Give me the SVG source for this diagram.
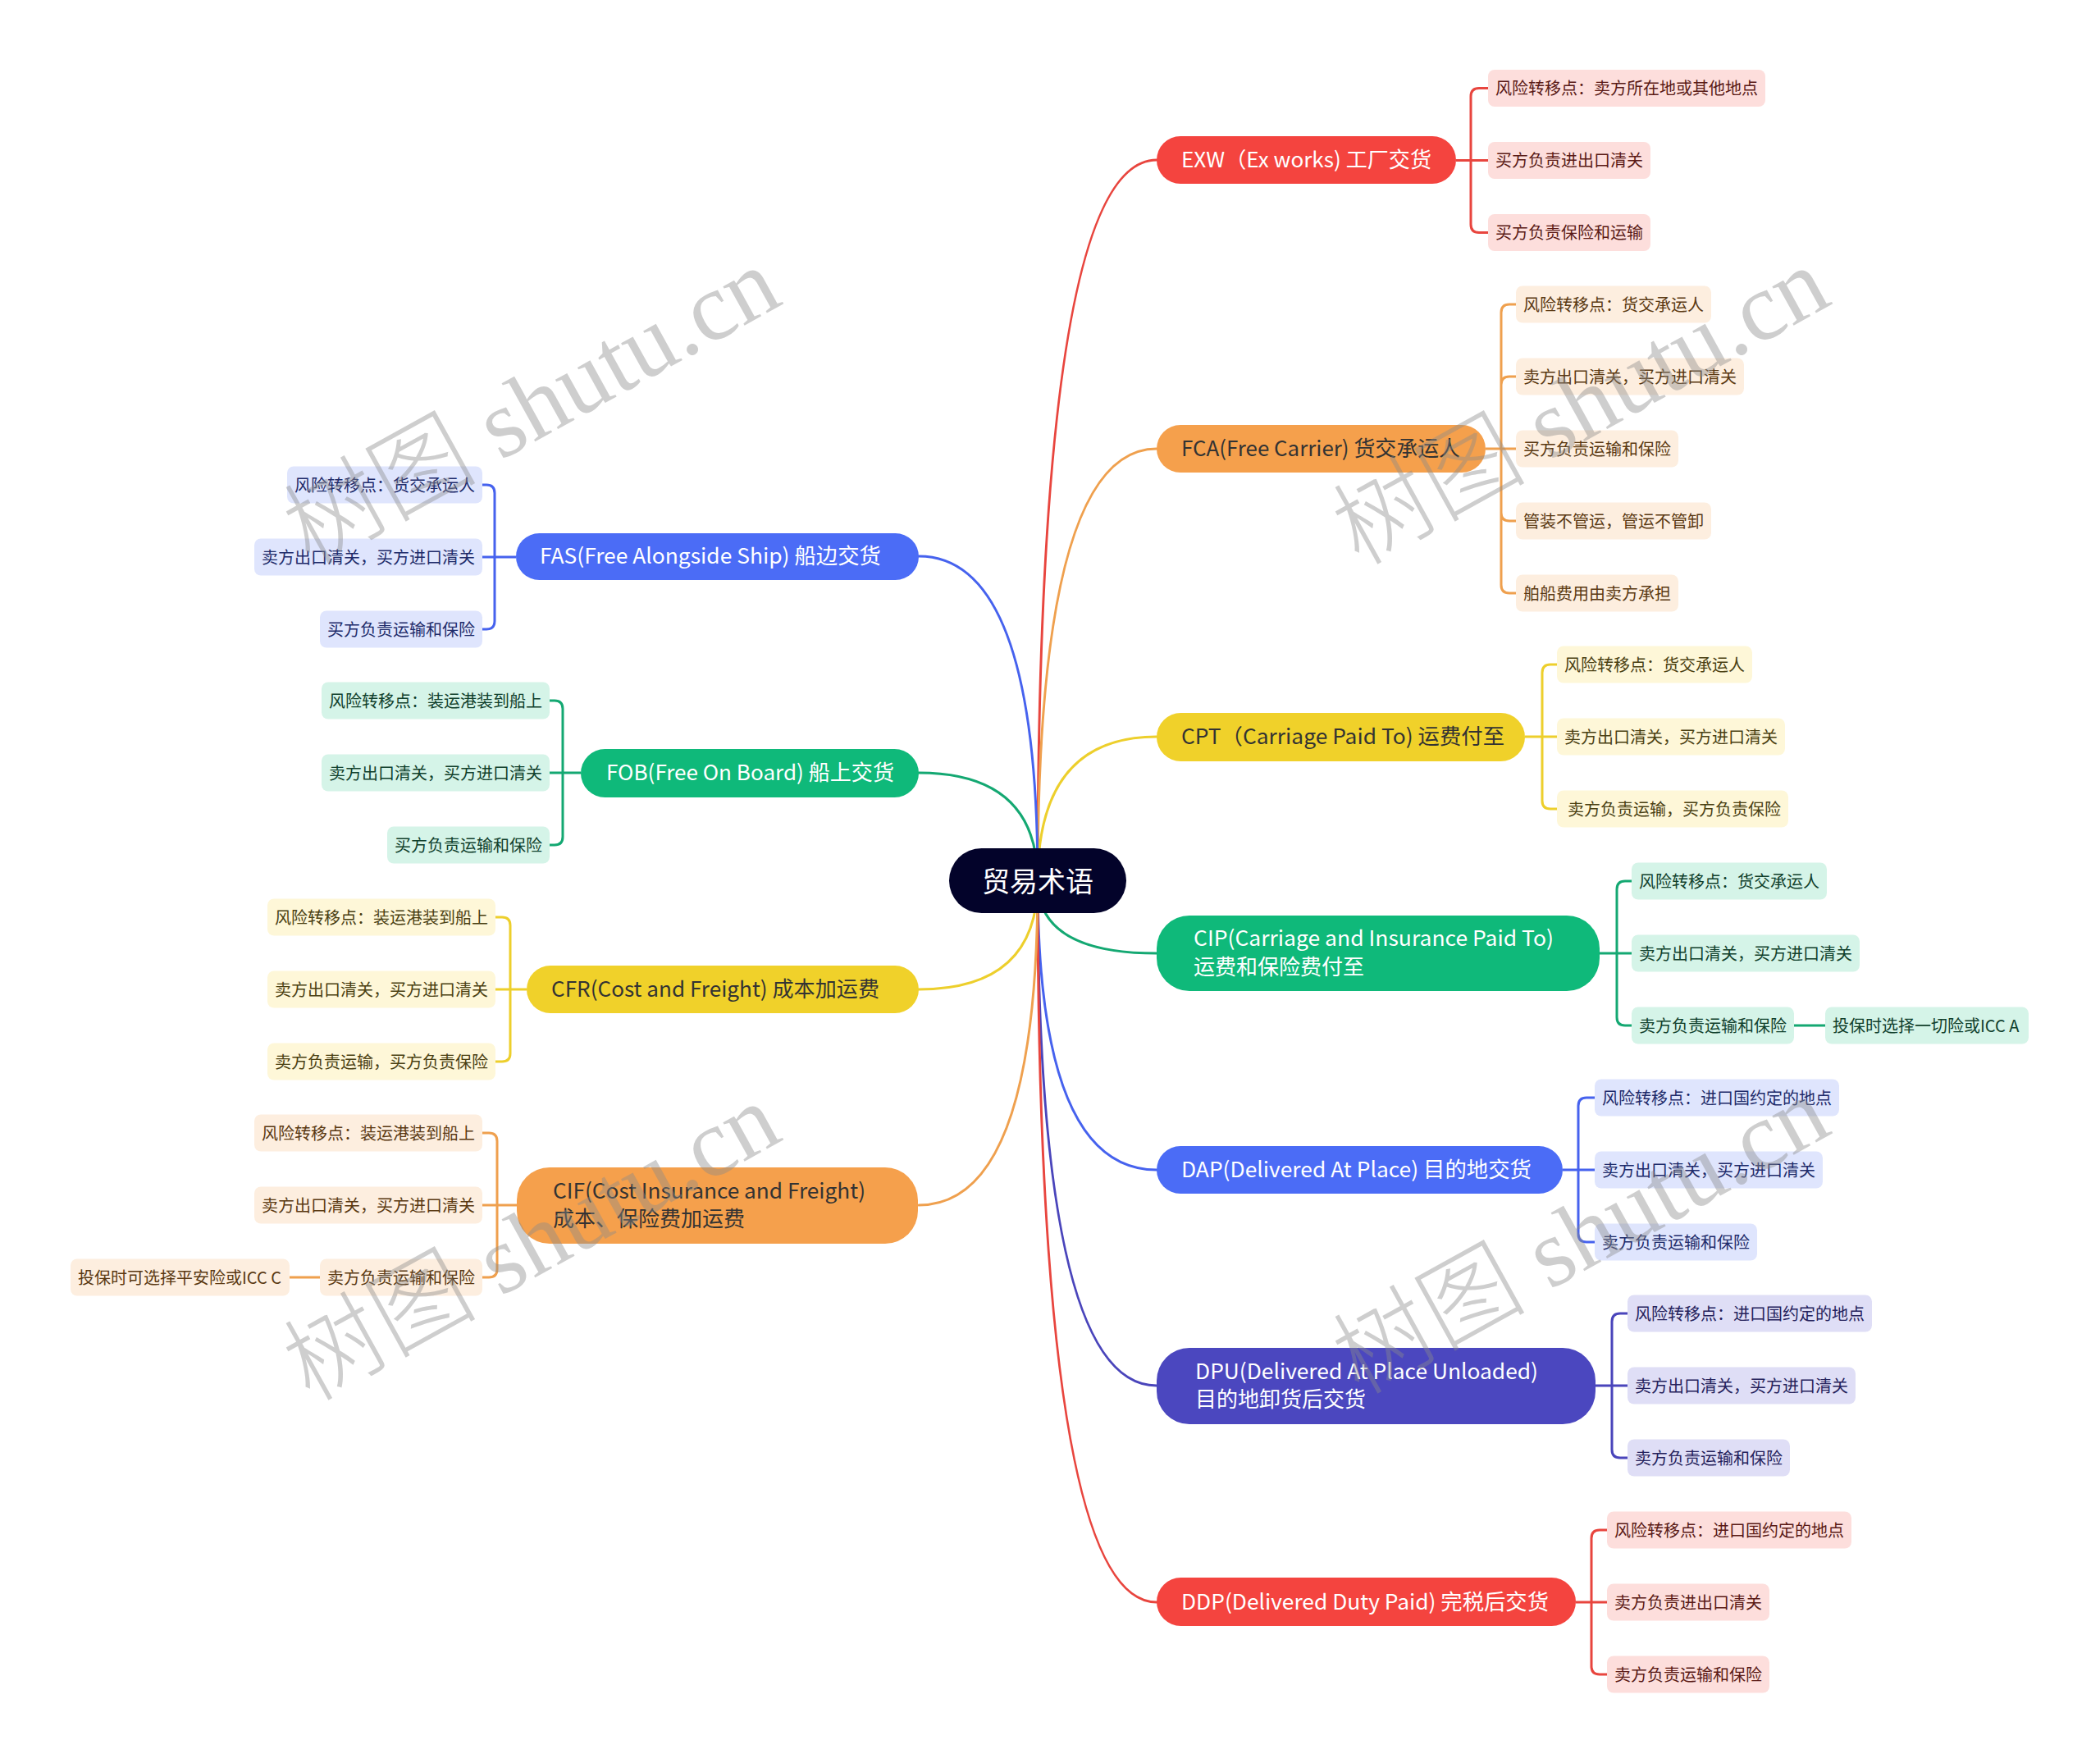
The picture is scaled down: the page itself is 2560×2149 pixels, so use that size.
<svg xmlns="http://www.w3.org/2000/svg" width="2560" height="2149" viewBox="0 0 2560 2149">
<style>
text{font-family:"Noto Sans CJK SC","Noto Sans",sans-serif}
.mt{font-size:26px}
.st{font-size:20px}
.ct{font-size:34px;fill:#fff}
.w{fill:#fff}
.d{fill:#333}
.cn{fill:none;stroke-width:3;stroke-linecap:round}
.br{fill:none;stroke-width:3}
.cred{stroke:#E8453E}.cora{stroke:#EFA04E}.cyel{stroke:#EDCF2C}.cgrn{stroke:#14A872}.cblu{stroke:#4662EE}.cind{stroke:#4A45BB}
.nred{fill:#F4443F}.nora{fill:#F5A04C}.nyel{fill:#F0D12A}.ngrn{fill:#0FB97A}.nblu{fill:#4B6CF6}.nind{fill:#4B47BF}
.sred rect{fill:#FDDEDC}.sred text{fill:#5A1A16}
.sora rect{fill:#FDEEDF}.sora text{fill:#5A3912}
.syel rect{fill:#FEF7D8}.syel text{fill:#4A4012}
.sgrn rect{fill:#D5F4E8}.sgrn text{fill:#10402C}
.sblu rect{fill:#DFE5FD}.sblu text{fill:#1E2B6A}
.sind rect{fill:#DFDEF6}.sind text{fill:#25225C}
.wm{font-family:"Liberation Serif","Noto Sans CJK SC",serif;font-size:118px;font-weight:300;fill:#8a8a8a;fill-opacity:0.42}
</style>
<rect width="2560" height="2149" fill="#fff"/>
<g id="connectors">
<path class="cn cred" d="M1265,1074 Q1265,195 1410,195"/>
<path class="cn cora" d="M1265,1074 Q1265,547 1410,547"/>
<path class="cn cyel" d="M1265,1074 Q1265,898 1410,898"/>
<path class="cn cgrn" d="M1265,1074 Q1265,1162 1410,1162"/>
<path class="cn cblu" d="M1265,1074 Q1265,1426 1410,1426"/>
<path class="cn cind" d="M1265,1074 Q1265,1689 1410,1689"/>
<path class="cn cred" d="M1265,1074 Q1265,1953 1410,1953"/>
<path class="cn cblu" d="M1265,1074 Q1265,678 1120,678"/>
<path class="cn cgrn" d="M1265,1074 Q1265,942 1120,942"/>
<path class="cn cyel" d="M1265,1074 Q1265,1206 1120,1206"/>
<path class="cn cora" d="M1265,1074 Q1265,1469 1120,1469"/>
<path class="br cred" d="M1775,195.5 H1814 M1793,117.5 V273.5 M1793,117.5 Q1793,107.5 1803,107.5 H1814 M1793,273.5 Q1793,283.5 1803,283.5 H1814"/>
<path class="br cora" d="M1811,547 H1848 M1830,381 V713 M1830,381 Q1830,371 1840,371 H1848 M1830,469 Q1830,459 1840,459 H1848 M1830,625 Q1830,635 1840,635 H1848 M1830,713 Q1830,723 1840,723 H1848"/>
<path class="br cyel" d="M1859,898 H1898 M1880,820 V976 M1880,820 Q1880,810 1890,810 H1898 M1880,976 Q1880,986 1890,986 H1898"/>
<path class="br cgrn" d="M1950,1162 H1989 M1971,1084 V1240 M1971,1084 Q1971,1074 1981,1074 H1989 M1971,1240 Q1971,1250 1981,1250 H1989 M2187,1250 H2225"/>
<path class="br cblu" d="M1905,1426 H1944 M1924,1348 V1504 M1924,1348 Q1924,1338 1934,1338 H1944 M1924,1504 Q1924,1514 1934,1514 H1944"/>
<path class="br cind" d="M1945,1689 H1984 M1965,1611 V1767 M1965,1611 Q1965,1601 1975,1601 H1984 M1965,1767 Q1965,1777 1975,1777 H1984"/>
<path class="br cred" d="M1921,1953 H1959 M1940,1875 V2031 M1940,1875 Q1940,1865 1950,1865 H1959 M1940,2031 Q1940,2041 1950,2041 H1959"/>
<path class="br cblu" d="M629,679 H588 M603,601 V757 M603,601 Q603,591 593,591 H588 M603,757 Q603,767 593,767 H588"/>
<path class="br cgrn" d="M708,942 H670 M686,864 V1020 M686,864 Q686,854 676,854 H670 M686,1020 Q686,1030 676,1030 H670"/>
<path class="br cyel" d="M642,1206 H604 M622,1128 V1284 M622,1128 Q622,1118 612,1118 H604 M622,1284 Q622,1294 612,1294 H604"/>
<path class="br cora" d="M630,1469 H588 M606,1391 V1547 M606,1391 Q606,1381 596,1381 H588 M606,1547 Q606,1557 596,1557 H588 M390,1557 H353"/>
</g>
<g id="root">
<rect x="1157" y="1034" width="216" height="79" rx="39.5" fill="#03032A"/>
<text class="ct" x="1265" y="1087" text-anchor="middle">贸易术语</text>
</g>
<g id="exw">
<rect class="nred" x="1410" y="166" width="365" height="58" rx="29"/>
<text class="mt w" x="1440" y="204" textLength="305" lengthAdjust="spacingAndGlyphs">EXW（Ex works) 工厂交货</text>
</g>
<g id="fca">
<rect class="nora" x="1410" y="518" width="401" height="58" rx="29"/>
<text class="mt d" x="1440" y="556" textLength="340" lengthAdjust="spacingAndGlyphs">FCA(Free Carrier) 货交承运人</text>
</g>
<g id="cpt">
<rect class="nyel" x="1410" y="869" width="449" height="59" rx="29.5"/>
<text class="mt d" x="1440" y="907" textLength="394" lengthAdjust="spacingAndGlyphs">CPT（Carriage Paid To) 运费付至</text>
</g>
<g id="cip">
<rect class="ngrn" x="1410" y="1116" width="540" height="92" rx="40"/>
<text class="mt w" x="1455" y="1153" textLength="439" lengthAdjust="spacingAndGlyphs">CIP(Carriage and Insurance Paid To)</text>
<text class="mt w" x="1455" y="1188">运费和保险费付至</text>
</g>
<g id="dap">
<rect class="nblu" x="1410" y="1397" width="495" height="58" rx="29"/>
<text class="mt w" x="1440" y="1435" textLength="427" lengthAdjust="spacingAndGlyphs">DAP(Delivered At Place) 目的地交货</text>
</g>
<g id="dpu">
<rect class="nind" x="1410" y="1643" width="535" height="93" rx="40"/>
<text class="mt w" x="1457" y="1681" textLength="418" lengthAdjust="spacingAndGlyphs">DPU(Delivered At Place Unloaded)</text>
<text class="mt w" x="1457" y="1715">目的地卸货后交货</text>
</g>
<g id="ddp">
<rect class="nred" x="1410" y="1923" width="511" height="59" rx="29.5"/>
<text class="mt w" x="1440" y="1962" textLength="448" lengthAdjust="spacingAndGlyphs">DDP(Delivered Duty Paid) 完税后交货</text>
</g>
<g id="fas">
<rect class="nblu" x="629" y="650" width="491" height="57" rx="28.5"/>
<text class="mt w" x="658" y="687" textLength="416" lengthAdjust="spacingAndGlyphs">FAS(Free Alongside Ship) 船边交货</text>
</g>
<g id="fob">
<rect class="ngrn" x="708" y="913" width="412" height="59" rx="29.5"/>
<text class="mt w" x="739" y="951" textLength="351" lengthAdjust="spacingAndGlyphs">FOB(Free On Board) 船上交货</text>
</g>
<g id="cfr">
<rect class="nyel" x="642" y="1177" width="478" height="58" rx="29"/>
<text class="mt d" x="672" y="1215" textLength="400" lengthAdjust="spacingAndGlyphs">CFR(Cost and Freight) 成本加运费</text>
</g>
<g id="cif">
<rect class="nora" x="630" y="1423" width="489" height="93" rx="40"/>
<text class="mt d" x="674" y="1461" textLength="381" lengthAdjust="spacingAndGlyphs">CIF(Cost Insurance and Freight)</text>
<text class="mt d" x="674" y="1495">成本、保险费加运费</text>
</g>
<g id="exw-subs" class="sred">
<g id="exw-1"><rect x="1814" y="85" width="338" height="45" rx="8"/><text class="st" x="1823" y="115">风险转移点：卖方所在地或其他地点</text></g>
<g id="exw-2"><rect x="1814" y="173" width="198" height="45" rx="8"/><text class="st" x="1823" y="203">买方负责进出口清关</text></g>
<g id="exw-3"><rect x="1814" y="261" width="198" height="45" rx="8"/><text class="st" x="1823" y="291">买方负责保险和运输</text></g>
</g>
<g id="fca-subs" class="sora">
<g id="fca-1"><rect x="1848" y="348.5" width="238" height="45" rx="8"/><text class="st" x="1857" y="378.5">风险转移点：货交承运人</text></g>
<g id="fca-2"><rect x="1848" y="436.5" width="278" height="45" rx="8"/><text class="st" x="1857" y="466.5">卖方出口清关，买方进口清关</text></g>
<g id="fca-3"><rect x="1848" y="524.5" width="198" height="45" rx="8"/><text class="st" x="1857" y="554.5">买方负责运输和保险</text></g>
<g id="fca-4"><rect x="1848" y="612.5" width="238" height="45" rx="8"/><text class="st" x="1857" y="642.5">管装不管运，管运不管卸</text></g>
<g id="fca-5"><rect x="1848" y="700.5" width="198" height="45" rx="8"/><text class="st" x="1857" y="730.5">舶船费用由卖方承担</text></g>
</g>
<g id="cpt-subs" class="syel">
<g id="cpt-1"><rect x="1898" y="787.5" width="238" height="45" rx="8"/><text class="st" x="1907" y="817.5">风险转移点：货交承运人</text></g>
<g id="cpt-2"><rect x="1898" y="875.5" width="278" height="45" rx="8"/><text class="st" x="1907" y="905.5">卖方出口清关，买方进口清关</text></g>
<g id="cpt-3"><rect x="1898" y="963.5" width="282" height="45" rx="8"/><text class="st" x="1911" y="993.5">卖方负责运输，买方负责保险</text></g>
</g>
<g id="cip-subs" class="sgrn">
<g id="cip-1"><rect x="1989" y="1051.5" width="238" height="45" rx="8"/><text class="st" x="1998" y="1081.5">风险转移点：货交承运人</text></g>
<g id="cip-2"><rect x="1989" y="1139.5" width="278" height="45" rx="8"/><text class="st" x="1998" y="1169.5">卖方出口清关，买方进口清关</text></g>
<g id="cip-3"><rect x="1989" y="1227.5" width="198" height="45" rx="8"/><text class="st" x="1998" y="1257.5">卖方负责运输和保险</text></g>
<g id="cip-3-1"><rect x="2225" y="1227.5" width="248" height="45" rx="8"/><text class="st" x="2234" y="1257.5">投保时选择一切险或ICC A</text></g>
</g>
<g id="dap-subs" class="sblu">
<g id="dap-1"><rect x="1944" y="1315.5" width="298" height="45" rx="8"/><text class="st" x="1953" y="1345.5">风险转移点：进口国约定的地点</text></g>
<g id="dap-2"><rect x="1944" y="1403.5" width="278" height="45" rx="8"/><text class="st" x="1953" y="1433.5">卖方出口清关，买方进口清关</text></g>
<g id="dap-3"><rect x="1944" y="1491.5" width="198" height="45" rx="8"/><text class="st" x="1953" y="1521.5">卖方负责运输和保险</text></g>
</g>
<g id="dpu-subs" class="sind">
<g id="dpu-1"><rect x="1984" y="1578.5" width="298" height="45" rx="8"/><text class="st" x="1993" y="1608.5">风险转移点：进口国约定的地点</text></g>
<g id="dpu-2"><rect x="1984" y="1666.5" width="278" height="45" rx="8"/><text class="st" x="1993" y="1696.5">卖方出口清关，买方进口清关</text></g>
<g id="dpu-3"><rect x="1984" y="1754.5" width="198" height="45" rx="8"/><text class="st" x="1993" y="1784.5">卖方负责运输和保险</text></g>
</g>
<g id="ddp-subs" class="sred">
<g id="ddp-1"><rect x="1959" y="1842.5" width="298" height="45" rx="8"/><text class="st" x="1968" y="1872.5">风险转移点：进口国约定的地点</text></g>
<g id="ddp-2"><rect x="1959" y="1930.5" width="198" height="45" rx="8"/><text class="st" x="1968" y="1960.5">卖方负责进出口清关</text></g>
<g id="ddp-3"><rect x="1959" y="2018.5" width="198" height="45" rx="8"/><text class="st" x="1968" y="2048.5">卖方负责运输和保险</text></g>
</g>
<g id="fas-subs" class="sblu">
<g id="fas-1"><rect x="350" y="568.5" width="238" height="45" rx="8"/><text class="st" x="359" y="598.5">风险转移点：货交承运人</text></g>
<g id="fas-2"><rect x="310" y="656.5" width="278" height="45" rx="8"/><text class="st" x="319" y="686.5">卖方出口清关，买方进口清关</text></g>
<g id="fas-3"><rect x="390" y="744.5" width="198" height="45" rx="8"/><text class="st" x="399" y="774.5">买方负责运输和保险</text></g>
</g>
<g id="fob-subs" class="sgrn">
<g id="fob-1"><rect x="392" y="831.5" width="278" height="45" rx="8"/><text class="st" x="401" y="861.5">风险转移点：装运港装到船上</text></g>
<g id="fob-2"><rect x="392" y="919.5" width="278" height="45" rx="8"/><text class="st" x="401" y="949.5">卖方出口清关，买方进口清关</text></g>
<g id="fob-3"><rect x="472" y="1007.5" width="198" height="45" rx="8"/><text class="st" x="481" y="1037.5">买方负责运输和保险</text></g>
</g>
<g id="cfr-subs" class="syel">
<g id="cfr-1"><rect x="326" y="1095.5" width="278" height="45" rx="8"/><text class="st" x="335" y="1125.5">风险转移点：装运港装到船上</text></g>
<g id="cfr-2"><rect x="326" y="1183.5" width="278" height="45" rx="8"/><text class="st" x="335" y="1213.5">卖方出口清关，买方进口清关</text></g>
<g id="cfr-3"><rect x="326" y="1271.5" width="278" height="45" rx="8"/><text class="st" x="335" y="1301.5">卖方负责运输，买方负责保险</text></g>
</g>
<g id="cif-subs" class="sora">
<g id="cif-1"><rect x="310" y="1358.5" width="278" height="45" rx="8"/><text class="st" x="319" y="1388.5">风险转移点：装运港装到船上</text></g>
<g id="cif-2"><rect x="310" y="1446.5" width="278" height="45" rx="8"/><text class="st" x="319" y="1476.5">卖方出口清关，买方进口清关</text></g>
<g id="cif-3"><rect x="390" y="1534.5" width="198" height="45" rx="8"/><text class="st" x="399" y="1564.5">卖方负责运输和保险</text></g>
<g id="cif-3-1"><rect x="86" y="1534.5" width="267" height="45" rx="8"/><text class="st" x="95" y="1564.5">投保时可选择平安险或ICC C</text></g>
</g>
<g id="watermarks">
<text class="wm" transform="translate(648,495) rotate(-29)" text-anchor="middle" y="40">树图 shutu.cn</text>
<text class="wm" transform="translate(1927,495) rotate(-29)" text-anchor="middle" y="40">树图 shutu.cn</text>
<text class="wm" transform="translate(648,1514) rotate(-29)" text-anchor="middle" y="40">树图 shutu.cn</text>
<text class="wm" transform="translate(1927,1506) rotate(-29)" text-anchor="middle" y="40">树图 shutu.cn</text>
</g>
</svg>
